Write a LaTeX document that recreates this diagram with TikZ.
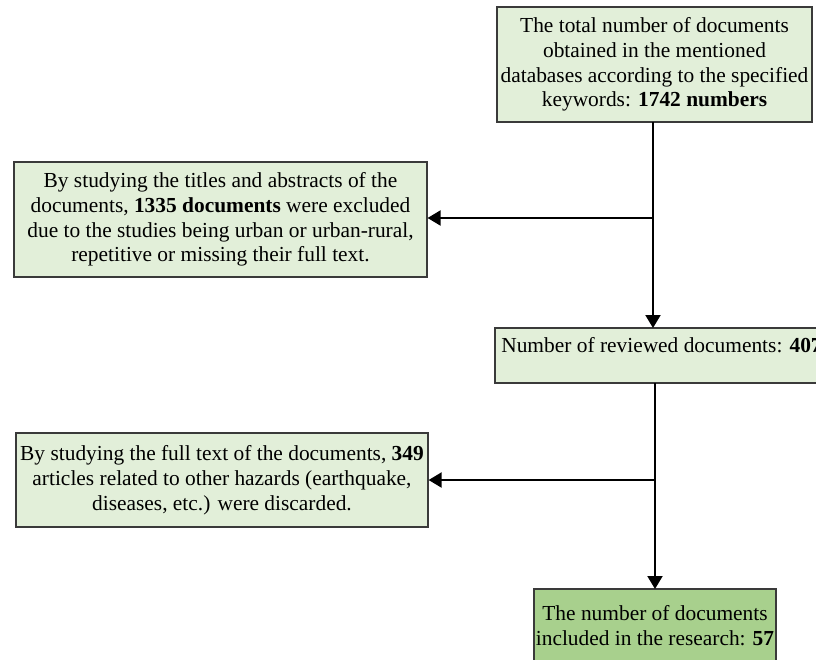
\documentclass[tikz,border=0pt]{standalone}
\usepackage{fontspec}
\setmainfont{Liberation Serif}
\usetikzlibrary{arrows.meta}
\definecolor{lightgreen}{HTML}{E2EFD9}
\definecolor{midgreen}{HTML}{A8D08D}
\definecolor{edgegray}{HTML}{3A3A3A}
\tikzset{
  box/.style={draw=edgegray, line width=1.2pt, fill=lightgreen, align=center,
    inner sep=0pt, font=\fontsize{21.4}{24.8}\selectfont},
  finalbox/.style={box, fill=midgreen},
  conn/.style={line width=2pt, -{Triangle[length=13pt,width=15pt]}}
}
\begin{document}
\begin{tikzpicture}[x=1pt,y=-1pt]
\useasboundingbox (0,0) rectangle (816,660);
\node[box, minimum width=315pt, minimum height=115pt] (total) at (654.5,64.5)
  {The total number of documents\\obtained in the mentioned\\databases according to the specified\\keywords: \textbf{1742 numbers}};
\node[box, minimum width=413pt, minimum height=115pt] (excl1) at (220.5,219.5)
  {By studying the titles and abstracts of the\\documents, \textbf{1335 documents} were excluded\\due to the studies being urban or urban-rural,\\repetitive or missing their full text.};
\node[box, minimum width=333pt, minimum height=55pt, text height=15pt, text depth=21pt] (reviewed) at (661.5,355.5)
  {Number of reviewed documents: \textbf{407}};
\node[box, minimum width=412pt, minimum height=94pt] (excl2) at (222,480)
  {By studying the full text of the documents, \textbf{349}\\articles related to other hazards (earthquake,\\diseases, etc.) were discarded.};
\node[finalbox, minimum width=242pt, minimum height=74pt] (final) at (655,626)
  {The number of documents\\included in the research: \textbf{57}};
\coordinate (top1) at (653,122);
\coordinate (j1) at (653,218);
\coordinate (end1) at (653,328);
\coordinate (top2) at (655,383);
\coordinate (j2) at (655,480);
\coordinate (end2) at (655,589);
\draw[conn] (top1) -- (end1);
\draw[conn] (j1) -- (j1 -| excl1.east);
\draw[conn] (top2) -- (end2);
\draw[conn] (j2) -- (j2 -| excl2.east);
\end{tikzpicture}
\end{document}
